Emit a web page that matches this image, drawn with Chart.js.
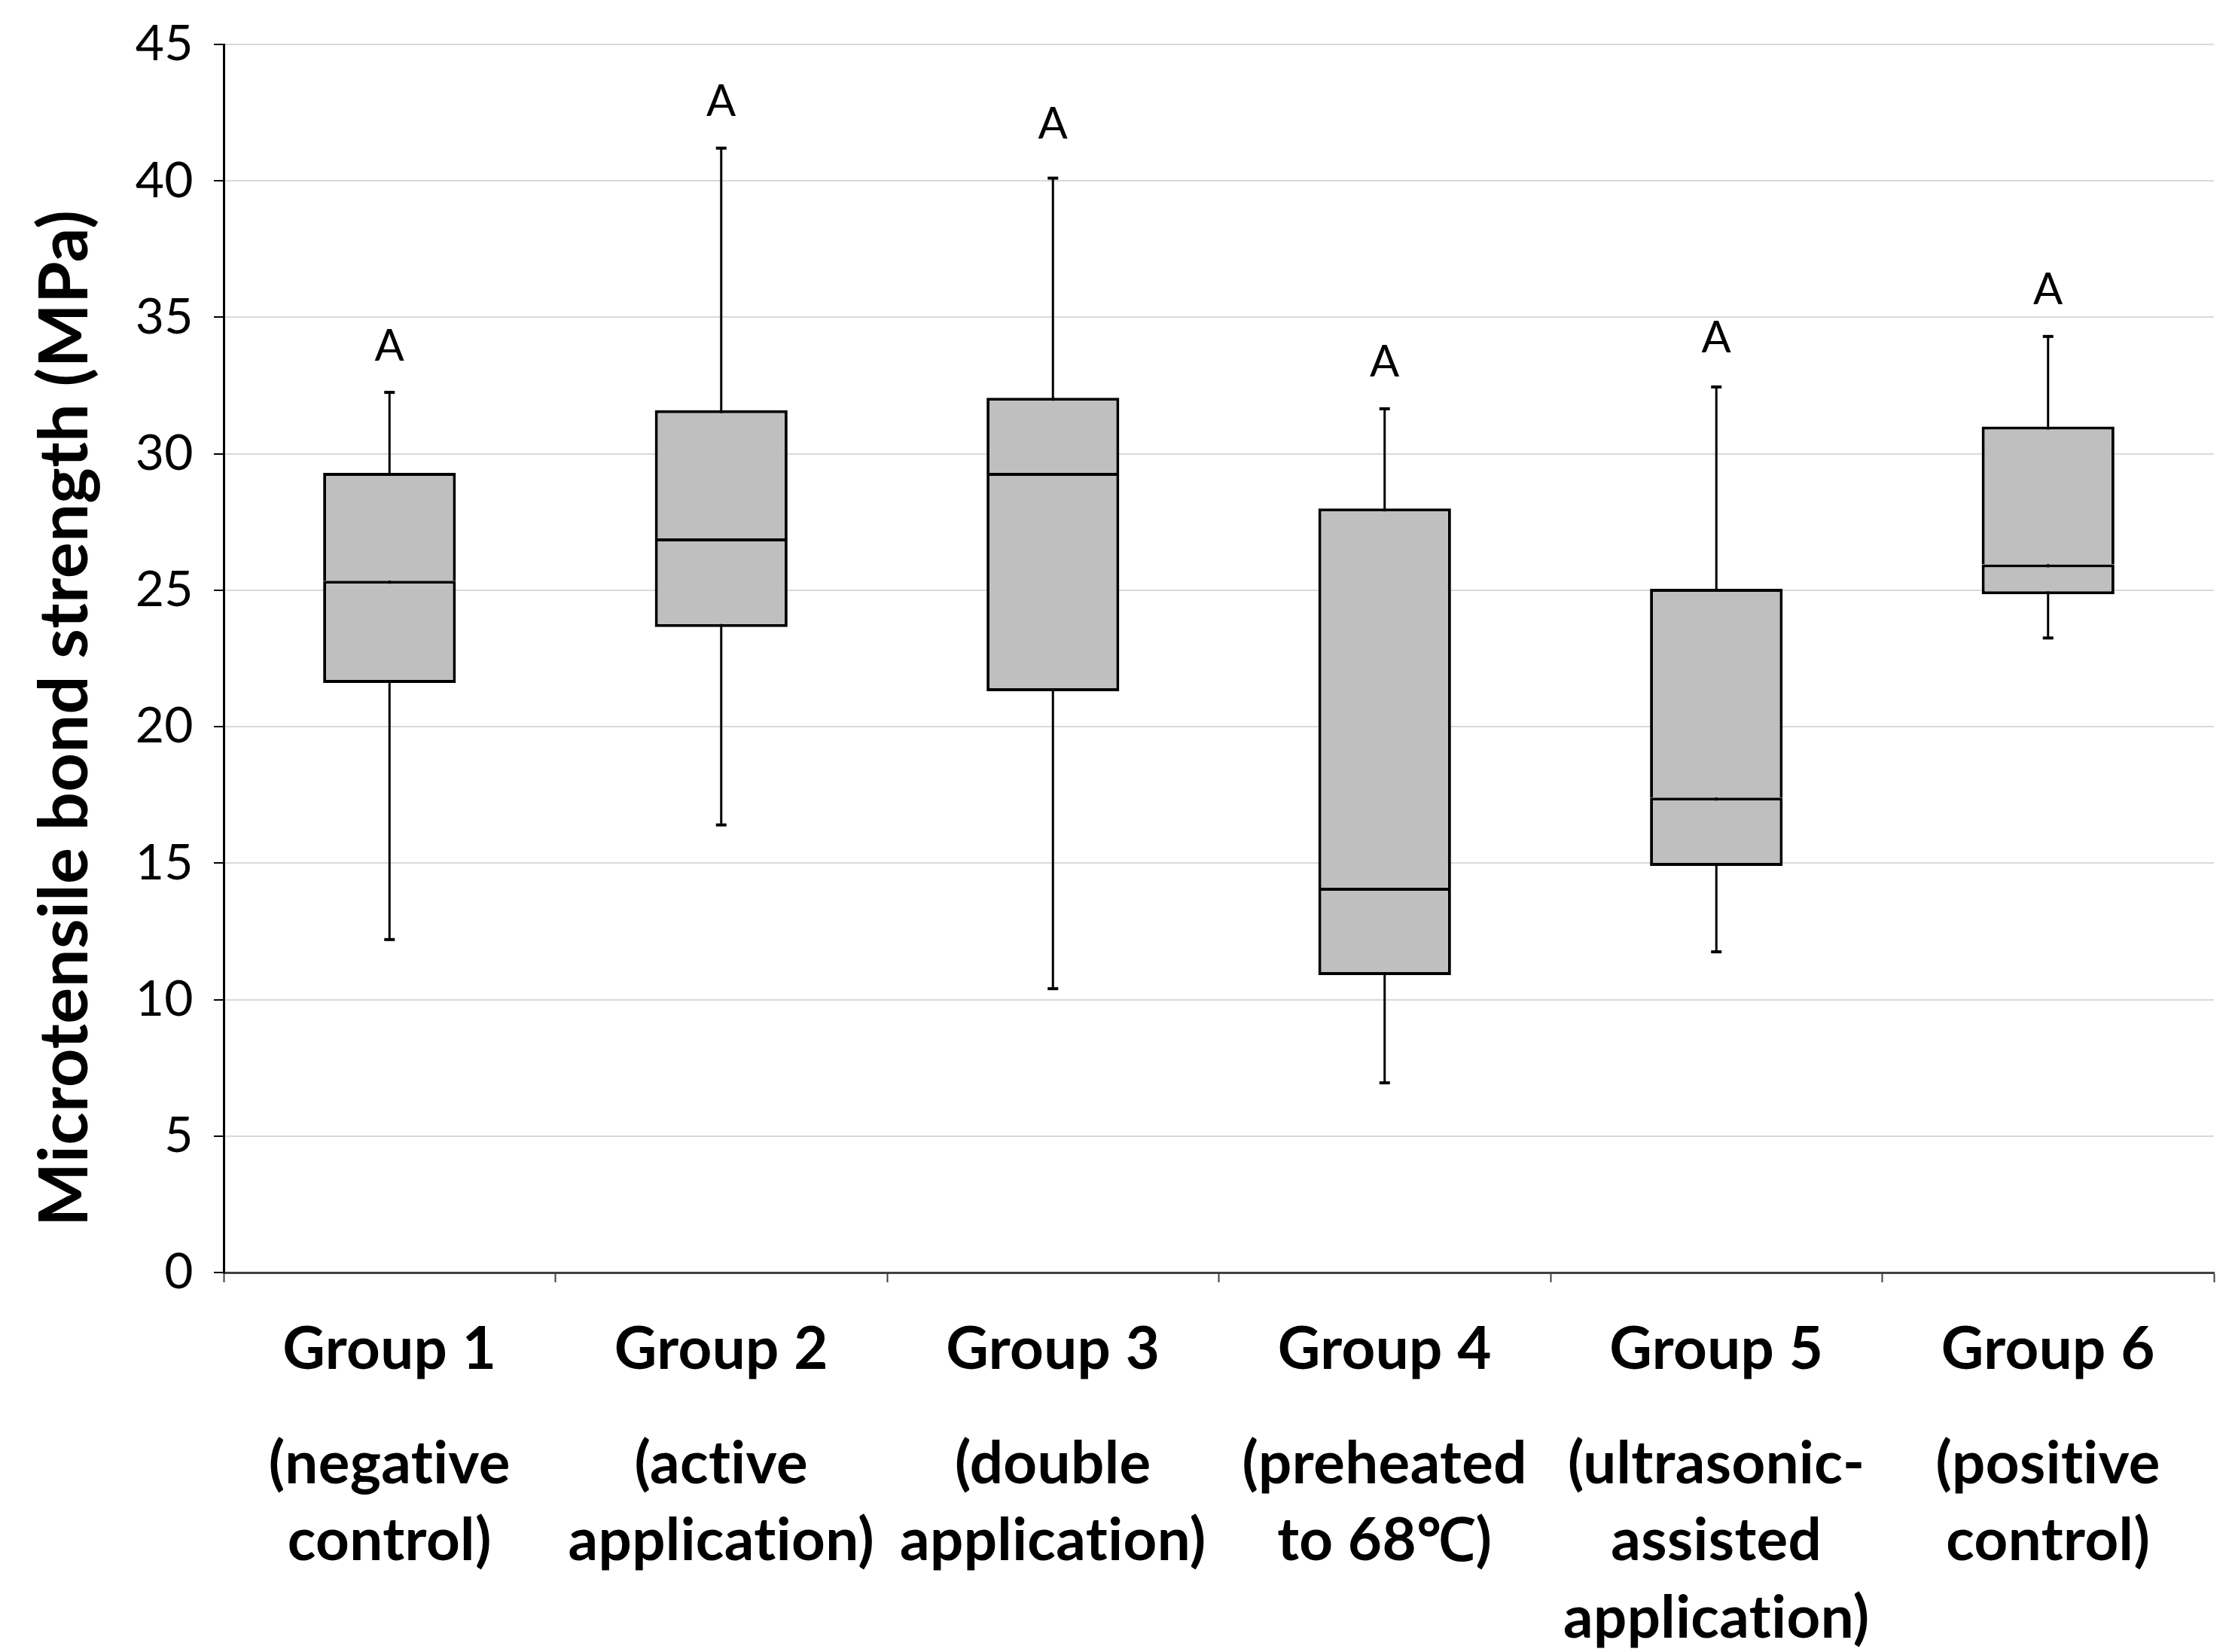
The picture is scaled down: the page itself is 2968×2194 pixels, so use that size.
<!DOCTYPE html>
<html>
<head>
<meta charset="utf-8">
<script src="https://cdn.jsdelivr.net/npm/chart.js@4/dist/chart.umd.min.js"></script>
<style>
html,body{margin:0;padding:0;background:#ffffff;}
#wrap{width:2968px;height:2194px;}
</style>
</head>
<body>
<div id="wrap"><canvas id="c" width="2968" height="2194"></canvas></div>
<script>
// ---- data ----
const groups = ["Group 1", "Group 2", "Group 3", "Group 4", "Group 5", "Group 6"];
const descriptions = [
  ["(negative", "control)"],
  ["(active", "application)"],
  ["(double", "application)"],
  ["(preheated", "to 68\u2103)"],
  ["(ultrasonic-", "assisted", "application)"],
  ["(positive", "control)"]
];
const minVals    = [12.2, 16.4, 10.4, 6.95, 11.75, 23.25];
const q1Vals     = [21.6, 23.65, 21.3, 10.9, 14.9, 24.85];
const medianVals = [25.35, 26.9, 29.3, 14.1, 17.4, 25.95];
const q3Vals     = [29.3, 31.6, 32.05, 28.0, 25.05, 31.0];
const maxVals    = [32.25, 41.2, 40.1, 31.65, 32.45, 34.3];
const letters    = ["A", "A", "A", "A", "A", "A"];
const letterPos  = [33.98, 42.96, 42.13, 33.41, 34.3, 36.07];
const yTitle = "Microtensile bond strength (MPa)";

// ---- library structures built from the arrays ----
const whiskerData = groups.map((g, i) => [minVals[i], maxVals[i]]);
const lowerBox = groups.map((g, i) => [q1Vals[i], medianVals[i]]);
const upperBox = groups.map((g, i) => [medianVals[i], q3Vals[i]]);

const noLigatures = {
  id: 'noLigatures',
  beforeDraw(chart) { chart.ctx.letterSpacing = '0.4px'; }
};

const letterPlugin = {
  id: 'letters',
  afterDatasetsDraw(chart) {
    const {ctx, scales: {x, y}} = chart;
    ctx.save();
    ctx.font = '58px Lato';
    ctx.fillStyle = '#000';
    ctx.textAlign = 'center';
    ctx.textBaseline = 'alphabetic';
    letters.forEach((t, i) => {
      ctx.fillText(t, x.getPixelForValue(i), y.getPixelForValue(letterPos[i]) + 21);
    });
    ctx.restore();
  }
};

new Chart(document.getElementById('c'), {
  data: {
    labels: groups,
    datasets: [
      {
        type: 'bar', label: 'whisker', data: whiskerData,
        backgroundColor: '#000', borderWidth: 0, grouped: false,
        categoryPercentage: 1, barPercentage: 0.05, maxBarThickness: 3, order: 3
      },
      {
        type: 'bar', label: 'lower', data: lowerBox,
        backgroundColor: '#BFBFBF', borderColor: '#000', borderWidth: 4,
        borderSkipped: false, grouped: false,
        categoryPercentage: 1, barPercentage: 0.40, order: 2
      },
      {
        type: 'bar', label: 'upper', data: upperBox,
        backgroundColor: '#BFBFBF', borderColor: '#000', borderWidth: 4,
        borderSkipped: 'bottom', grouped: false,
        categoryPercentage: 1, barPercentage: 0.40, order: 2
      },
      {
        type: 'line', label: 'max', data: maxVals, showLine: false,
        pointStyle: 'line', pointRadius: 7, pointHoverRadius: 7,
        borderColor: '#000', borderWidth: 4, order: 1
      },
      {
        type: 'line', label: 'min', data: minVals, showLine: false,
        pointStyle: 'line', pointRadius: 7, pointHoverRadius: 7,
        borderColor: '#000', borderWidth: 4, order: 1
      }
    ]
  },
  options: {
    responsive: false,
    animation: false,
    devicePixelRatio: 1,
    layout: { padding: { top: 59, right: 28, bottom: 0, left: 0 } },
    plugins: { legend: { display: false }, tooltip: { enabled: false } },
    scales: {
      x: {
        type: 'category', position: 'bottom', offset: true,
        grid: { display: true, offset: true, drawOnChartArea: false, drawTicks: true,
                tickLength: 13, tickColor: '#404040', tickWidth: 2, color: '#404040' },
        border: { display: true, color: '#404040', width: 3 },
        ticks: { font: { family: 'Lato', weight: 'bold', size: 78, lineHeight: 1.2 },
                 color: '#000', padding: 43, maxRotation: 0, autoSkip: false },
        afterFit: s => { s.height = 160; }
      },
      x2: {
        type: 'category', position: 'bottom', offset: true, labels: descriptions,
        grid: { display: false, drawTicks: false },
        border: { display: false },
        ticks: { font: { family: 'Lato', weight: 'bold', size: 78, lineHeight: 1.31 },
                 color: '#000', padding: 44, maxRotation: 0, autoSkip: false },
        afterFit: s => { s.height = 344; }
      },
      y: {
        min: 0, max: 45,
        ticks: { stepSize: 5, font: { family: 'Lato', size: 66, lineHeight: 0.9 }, color: '#000', padding: 27 },
        grid: { color: '#D9D9D9', lineWidth: 2, tickColor: '#000', tickLength: 13, tickWidth: 2 },
        border: { color: '#000', width: 3 },
        title: { display: true, text: yTitle + '\u2002\u2002\u2002 ',
                 font: { family: 'Lato', weight: 'bold', size: 90, lineHeight: 1.2 },
                 color: '#000', padding: { top: 33, bottom: 0 } },
        afterFit: s => { s.width = 297; }
      }
    }
  },
  plugins: [noLigatures, letterPlugin]
});
</script>
</body>
</html>
